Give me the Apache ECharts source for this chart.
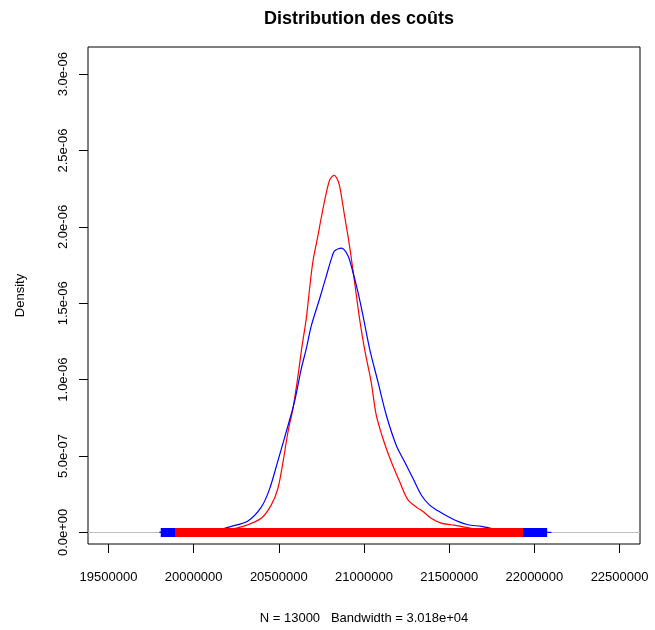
<!DOCTYPE html>
<html>
<head>
<meta charset="utf-8">
<script src="https://cdn.jsdelivr.net/npm/echarts@6/dist/echarts.min.js"></script>
<style>
html,body{margin:0;padding:0;background:#fff;}
#chart{width:655px;height:630px;}
</style>
</head>
<body>
<div id="chart"></div>
<script>
// ---- data ----
const titleText = "Distribution des coûts";
const xAxisTitle = "N = 13000   Bandwidth = 3.018e+04";
const yAxisTitle = "Density";

const xTicks = [19500000, 20000000, 20500000, 21000000, 21500000, 22000000, 22500000];
const xTickLabels = ["19500000", "20000000", "20500000", "21000000", "21500000", "22000000", "22500000"];
const yTicks = [0, 5e-7, 1e-6, 1.5e-6, 2e-6, 2.5e-6, 3e-6];
const yTickLabels = ["0.0e+00", "5.0e-07", "1.0e-06", "1.5e-06", "2.0e-06", "2.5e-06", "3.0e-06"];

// red density curve (x in cost units, y in 1e-6)
const redX = [19800000,19900000,20000000,20100000,20200000,20290000,20397000,20456000,20495000,20525000,
  20554000,20583000,20613000,20634000,20661000,20681000,20701000,20730000,20749000,20779000,
  20800000,20824000,20840000,20857000,20886000,20915000,20945000,20974000,21003000,21042000,
  21072000,21111000,21160000,21209000,21258000,21316000,21346000,21394000,21453000,21512000,
  21570000,21650000,21750000,21850000,21950000,22030000];
const redY = [0,0.001,0.003,0.008,0.018,0.039,0.093,0.180,0.289,0.463,
  0.659,0.811,1.028,1.202,1.398,1.600,1.780,1.945,2.060,2.224,
  2.310,2.337,2.320,2.267,2.072,1.876,1.637,1.398,1.202,0.985,
  0.767,0.615,0.463,0.333,0.213,0.159,0.137,0.093,0.061,0.050,
  0.039,0.022,0.010,0.004,0.001,0];

// blue density curve
const blueX = [19800000,19950000,20050000,20150000,20221000,20319000,20397000,20446000,20495000,20554000,
  20593000,20632000,20661000,20691000,20739000,20779000,20808000,20827000,20867000,20906000,
  20935000,20965000,20994000,21033000,21082000,21131000,21189000,21238000,21287000,21336000,
  21384000,21434000,21492000,21551000,21610000,21688000,21800000,21900000,22000000,22100000];
const blueY = [0,0.002,0.006,0.018,0.039,0.075,0.165,0.285,0.470,0.700,
  0.860,1.072,1.202,1.354,1.528,1.680,1.789,1.843,1.861,1.811,
  1.703,1.572,1.419,1.202,0.985,0.767,0.571,0.463,0.354,0.245,
  0.180,0.141,0.104,0.072,0.050,0.039,0.015,0.005,0.001,0];

// rug extents (min, max observed values)
const rugBlue = [19807000, 22075000];
const rugRed = [19891000, 21933000];

// ---- build ----
const toPairs = (xs, ys) => xs.map((x, i) => [x, ys[i] * 1e-6]);
const rugPairs = (r) => r.map(x => [x, 0]);
const FONT = "'Liberation Sans', Arial, sans-serif";

function nearestLabel(ticks, labels, v) {
  let best = 0, bd = Infinity;
  ticks.forEach((t, i) => { const d = Math.abs(t - v); if (d < bd) { bd = d; best = i; } });
  return labels[best];
}

const chart = echarts.init(document.getElementById('chart'), null, {renderer: 'canvas'});
chart.setOption({
  animation: false,
  backgroundColor: '#ffffff',
  textStyle: {fontFamily: FONT},
  title: {
    text: titleText,
    left: 264, top: 10, padding: 0,
    textStyle: {fontFamily: FONT, fontSize: 18, fontWeight: 'bold', color: '#000'}
  },
  grid: {
    left: 88, right: 15, top: 47, bottom: 84,
    show: true, borderColor: '#000', borderWidth: 1, backgroundColor: 'transparent'
  },
  xAxis: {
    type: 'value', min: 19380000, max: 22620000,
    name: xAxisTitle, nameLocation: 'middle', nameGap: 68,
    nameTextStyle: {fontFamily: FONT, fontSize: 13, color: '#000'},
    axisLine: {show: false, onZero: false},
    splitLine: {show: false},
    axisTick: {show: true, inside: false, length: 9, customValues: xTicks, lineStyle: {color: '#000', width: 1}},
    axisLabel: {customValues: xTicks, formatter: v => nearestLabel(xTicks, xTickLabels, v), margin: 27, fontFamily: FONT, fontSize: 13, color: '#000'}
  },
  yAxis: {
    type: 'value', min: -0.076e-6, max: 3.178e-6,
    name: yAxisTitle, nameLocation: 'middle', nameGap: 61, nameRotate: 90,
    nameTextStyle: {fontFamily: FONT, fontSize: 13, color: '#000'},
    axisLine: {show: false, onZero: false},
    splitLine: {show: false},
    axisTick: {show: true, inside: false, length: 9, customValues: yTicks, lineStyle: {color: '#000', width: 1}},
    axisLabel: {customValues: yTicks, formatter: v => nearestLabel(yTicks, yTickLabels, v), rotate: 90, margin: 18, fontFamily: FONT, fontSize: 13, color: '#000'}
  },
  series: [
    {
      type: 'line', data: toPairs(redX, redY), showSymbol: false, smooth: 0.3,
      lineStyle: {color: '#ff0000', width: 1.2}, z: 3,
      markLine: {
        silent: true, symbol: 'none', label: {show: false},
        lineStyle: {color: '#bebebe', type: 'solid', width: 1},
        data: [{yAxis: 0}], z: 1
      }
    },
    {
      type: 'line', data: toPairs(blueX, blueY), showSymbol: false, smooth: 0.3,
      lineStyle: {color: '#0000ff', width: 1.2}, z: 3
    },
    {
      type: 'line', data: rugPairs(rugBlue), showSymbol: false,
      lineStyle: {color: '#0000ff', width: 9, cap: 'butt'}, z: 4
    },
    {
      type: 'line', data: rugPairs(rugRed), showSymbol: false,
      lineStyle: {color: '#ff0000', width: 9, cap: 'butt'}, z: 5
    }
  ]
});
</script>
</body>
</html>
